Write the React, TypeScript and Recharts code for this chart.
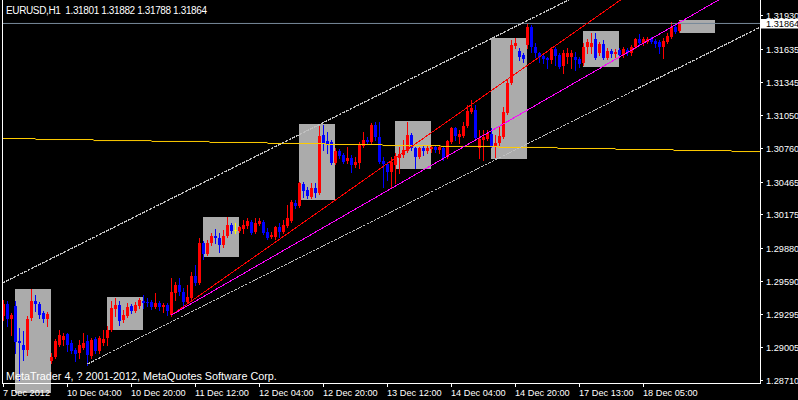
import React from "react";
import { ComposedChart, Bar, XAxis, YAxis, ReferenceArea, ReferenceLine } from "recharts";

// EURUSD H1 candles, bar 0 = 7 Dec 2012 12:00
const opens = [
  1.29283, 1.29389, 1.29257, 1.29371, 1.29062, 1.29027, 1.28983, 1.29265, 1.29415, 1.29389,
  1.2931, 1.29257, 1.28885, 1.28921, 1.29027, 1.29071, 1.29124, 1.29045, 1.28983, 1.28957,
  1.29001, 1.29062, 1.2893, 1.2908, 1.28974, 1.29045, 1.29089, 1.29159, 1.29345, 1.2938,
  1.29247, 1.29283, 1.29371, 1.29327, 1.29371, 1.29415, 1.29406, 1.29406, 1.29362, 1.29398,
  1.29362, 1.2938, 1.29292, 1.29486, 1.29556, 1.29494, 1.29406, 1.29442, 1.29636, 1.29574,
  1.29927, 1.2983, 1.29927, 1.29988, 1.29971, 1.29909, 1.29988, 1.30085, 1.30041, 1.30032,
  1.3005, 1.30077, 1.30112, 1.30023, 1.30094, 1.30112, 1.30023, 1.2998, 1.2998, 1.30068,
  1.30023, 1.30077, 1.30121, 1.3028, 1.30253, 1.30447, 1.30394, 1.30332, 1.30412, 1.30368,
  1.3088, 1.30827, 1.30818, 1.30633, 1.30739, 1.30703, 1.3065, 1.30677, 1.30615, 1.30633,
  1.30783, 1.30836, 1.30818, 1.30968, 1.30862, 1.3065, 1.30624, 1.30553, 1.30615, 1.30677,
  1.30703, 1.30739, 1.3088, 1.30765, 1.30685, 1.30765, 1.30739, 1.30756, 1.30774, 1.30747,
  1.30765, 1.30685, 1.30818, 1.30942, 1.30862, 1.30871, 1.30959, 1.31083, 1.311, 1.30765,
  1.30836, 1.30845, 1.30889, 1.30783, 1.30809, 1.30862, 1.31074, 1.31339, 1.31665, 1.31621,
  1.31586, 1.31674, 1.31832, 1.31656, 1.31604, 1.31577, 1.3156, 1.31542, 1.31639, 1.31586,
  1.31489, 1.31568, 1.31568, 1.31568, 1.31551, 1.31515, 1.31656, 1.31656, 1.31727, 1.31604,
  1.31683, 1.3156, 1.31621, 1.31595, 1.3163, 1.31586, 1.3163, 1.31604, 1.31656, 1.31727,
  1.31692, 1.31701, 1.31736, 1.31709, 1.31701, 1.31656, 1.31701, 1.31745, 1.31832, 1.31801,
];
const highs = [
  1.29424, 1.29415, 1.2931, 1.29415, 1.29176, 1.2915, 1.29283, 1.29521, 1.29468, 1.29406,
  1.29327, 1.29318, 1.28957, 1.2908, 1.29159, 1.29133, 1.29133, 1.29071, 1.29001, 1.29071,
  1.29133, 1.29115, 1.29089, 1.29098, 1.29106, 1.29159, 1.29194, 1.29415, 1.29442, 1.29415,
  1.29336, 1.29398, 1.29389, 1.29406, 1.29442, 1.29468, 1.29442, 1.29424, 1.29486, 1.29415,
  1.29398, 1.29398, 1.29618, 1.29583, 1.29618, 1.2953, 1.29556, 1.29671, 1.29733, 1.29971,
  1.29944, 1.29953, 1.30015, 1.3005, 1.30015, 1.30041, 1.30156, 1.30103, 1.30103, 1.30077,
  1.3013, 1.30147, 1.3013, 1.30147, 1.30147, 1.3013, 1.30059, 1.30023, 1.30077, 1.30103,
  1.3013, 1.30262, 1.30306, 1.30306, 1.30465, 1.30465, 1.30421, 1.30456, 1.30456, 1.30959,
  1.30968, 1.30906, 1.30836, 1.30765, 1.30756, 1.30721, 1.30774, 1.30703, 1.30685, 1.30818,
  1.30906, 1.30862, 1.30986, 1.30994, 1.30994, 1.30685, 1.30641, 1.30685, 1.30721, 1.30774,
  1.30836, 1.30994, 1.30897, 1.30774, 1.30774, 1.30783, 1.30783, 1.30792, 1.30792, 1.30792,
  1.30783, 1.30836, 1.3095, 1.3095, 1.30924, 1.30994, 1.31145, 1.31189, 1.31145, 1.30924,
  1.30924, 1.30924, 1.30942, 1.3088, 1.3095, 1.31127, 1.31365, 1.31718, 1.31736, 1.31648,
  1.31604, 1.31859, 1.3185, 1.31692, 1.31612, 1.31604, 1.31568, 1.31656, 1.31656, 1.31604,
  1.3163, 1.31648, 1.3163, 1.31612, 1.31568, 1.31692, 1.31727, 1.3178, 1.3178, 1.31701,
  1.31718, 1.31648, 1.31639, 1.31639, 1.31648, 1.31656, 1.31648, 1.31674, 1.31736, 1.31771,
  1.31745, 1.31745, 1.31745, 1.31727, 1.31718, 1.31736, 1.3178, 1.31877, 1.31868, 1.31882,
];
const lows = [
  1.29247, 1.29194, 1.29115, 1.28957, 1.28718, 1.28894, 1.28939, 1.29247, 1.29327, 1.29265,
  1.29229, 1.29194, 1.28868, 1.28912, 1.29018, 1.29027, 1.28974, 1.28957, 1.28885, 1.28912,
  1.28992, 1.2885, 1.28912, 1.28957, 1.28957, 1.29027, 1.29027, 1.2915, 1.29283, 1.29203,
  1.29229, 1.29274, 1.2931, 1.29318, 1.29354, 1.29354, 1.29371, 1.29345, 1.29354, 1.29336,
  1.29318, 1.29292, 1.29283, 1.29424, 1.29468, 1.2938, 1.29398, 1.29433, 1.29556, 1.29565,
  1.29786, 1.29821, 1.29909, 1.29927, 1.29848, 1.29891, 1.2998, 1.30015, 1.30015, 1.30023,
  1.30015, 1.30059, 1.30006, 1.30015, 1.30085, 1.30006, 1.29962, 1.29971, 1.29962, 1.2998,
  1.30015, 1.30068, 1.30112, 1.30235, 1.30244, 1.30332, 1.30324, 1.30324, 1.30332, 1.30359,
  1.30747, 1.30721, 1.30624, 1.30624, 1.30677, 1.30633, 1.30633, 1.30553, 1.30597, 1.30588,
  1.30774, 1.30809, 1.30809, 1.30836, 1.30633, 1.30421, 1.30483, 1.30412, 1.30456, 1.30544,
  1.30685, 1.3073, 1.30747, 1.30588, 1.30677, 1.30703, 1.30721, 1.3073, 1.3073, 1.30721,
  1.30659, 1.30677, 1.30809, 1.30836, 1.30809, 1.30862, 1.3095, 1.31074, 1.30836, 1.30677,
  1.30659, 1.30836, 1.30774, 1.30685, 1.30792, 1.30853, 1.31065, 1.3133, 1.31648, 1.31542,
  1.31524, 1.31648, 1.31612, 1.31568, 1.31524, 1.31515, 1.31471, 1.31515, 1.31498, 1.31471,
  1.31427, 1.31515, 1.31471, 1.31453, 1.3148, 1.31498, 1.31604, 1.31604, 1.31551, 1.31586,
  1.31551, 1.31551, 1.31568, 1.31568, 1.31568, 1.31568, 1.31586, 1.31586, 1.31648, 1.31683,
  1.31674, 1.31692, 1.31692, 1.31656, 1.31604, 1.3156, 1.31692, 1.31736, 1.3178, 1.31788,
];
const closes = [
  1.29389, 1.29257, 1.29292, 1.29053, 1.29045, 1.28983, 1.29257, 1.29415, 1.29389, 1.29292,
  1.29257, 1.29301, 1.28921, 1.29062, 1.29115, 1.29106, 1.29027, 1.28974, 1.28948, 1.29027,
  1.29045, 1.28939, 1.29071, 1.28974, 1.29089, 1.2908, 1.29159, 1.29354, 1.2938, 1.29238,
  1.29292, 1.29362, 1.29327, 1.2938, 1.29424, 1.29398, 1.29398, 1.29362, 1.29398, 1.29362,
  1.2938, 1.29327, 1.29494, 1.29556, 1.29494, 1.29406, 1.2945, 1.29636, 1.29574, 1.29927,
  1.2983, 1.29927, 1.29988, 1.29971, 1.29909, 1.29988, 1.30085, 1.30032, 1.30041, 1.30068,
  1.30085, 1.30121, 1.30015, 1.30103, 1.30121, 1.30015, 1.29971, 1.29997, 1.30068, 1.30023,
  1.30085, 1.30147, 1.30288, 1.30253, 1.30456, 1.30385, 1.30341, 1.30412, 1.30368, 1.30871,
  1.30809, 1.30792, 1.30633, 1.30739, 1.30694, 1.30641, 1.30677, 1.30615, 1.30641, 1.308,
  1.30836, 1.30818, 1.30968, 1.30862, 1.30641, 1.30624, 1.30553, 1.30641, 1.30694, 1.30712,
  1.30747, 1.3088, 1.30765, 1.30685, 1.30765, 1.30739, 1.30765, 1.30774, 1.30747, 1.30774,
  1.30677, 1.30827, 1.30942, 1.30871, 1.30889, 1.30959, 1.31092, 1.31118, 1.30853, 1.30845,
  1.30862, 1.30898, 1.30783, 1.30809, 1.30871, 1.31083, 1.31339, 1.31674, 1.31692, 1.31568,
  1.31551, 1.31832, 1.31656, 1.31604, 1.31568, 1.31551, 1.31542, 1.31639, 1.31577, 1.3148,
  1.31604, 1.31604, 1.31604, 1.31542, 1.31506, 1.31656, 1.31701, 1.31692, 1.3156, 1.31683,
  1.3156, 1.31621, 1.31595, 1.31612, 1.31586, 1.31639, 1.31604, 1.31656, 1.31727, 1.31692,
  1.31727, 1.31727, 1.31701, 1.31683, 1.31656, 1.31709, 1.31753, 1.31832, 1.31789, 1.31864,
];

const timeTickBars = [0, 16, 32, 48, 64, 80, 96, 112, 128, 144, 160];
const timeTickLabels = [
  "7 Dec 2012", "10 Dec 04:00", "10 Dec 20:00", "11 Dec 12:00", "12 Dec 04:00", "12 Dec 20:00",
  "13 Dec 12:00", "14 Dec 04:00", "14 Dec 20:00", "17 Dec 13:00", "18 Dec 05:00",
];
const priceTicks = [1.2871, 1.29005, 1.29295, 1.2959, 1.2988, 1.30175, 1.30465, 1.3076, 1.3105, 1.31345, 1.31635, 1.3193];

// session boxes (bar from / to, price low / high)
const boxFrom = [3, 26, 50, 74, 98, 122, 145, 169];
const boxTo = [12, 35, 59, 83, 107, 131, 154, 178];
const boxLow = [1.286, 1.29159, 1.29804, 1.30306, 1.3058, 1.30668, 1.3148, 1.3178];
const boxHigh = [1.29521, 1.29451, 1.30157, 1.30977, 1.31003, 1.31736, 1.31798, 1.31895];

// trend lines: upper channel, lower channel, red, magenta
const trendX1 = [-0.25, 21, 42, 42];
const trendY1 = [1.29574, 1.2886, 1.29292, 1.29292];
const trendX2 = [141.25, 189.25, 154.25, 178.75];
const trendY2 = [1.32071, 1.31833, 1.32071, 1.32071];
const trendColors = ["#C0C0C0", "#C0C0C0", "#FF0000", "#FF00FF"];
const trendDash = ["3 1", "3 1", undefined, undefined];

// stepped orange level
const levelFrom = [-0.25, 8, 22.5, 37, 51.5, 66, 80.5, 94.75, 109.25, 123.75, 138.5, 153, 167.5, 182];
const levelValue = [1.30849, 1.3084, 1.30831, 1.30823, 1.30814, 1.30805, 1.30796, 1.30787, 1.30779, 1.3077, 1.30761, 1.30752, 1.30743, 1.30734];

const X_MIN = -0.25;
const X_MAX = 189.25;
const Y_MIN = 1.28692;
const Y_MAX = 1.32071;
const FONT = "'Liberation Sans', Arial, sans-serif";

const last = closes.length - 1;
const bid = closes[last];

function Candle(props: any) {
  const { x, y, width, height, payload } = props;
  if (!payload) return null;
  const { open, close, high, low } = payload;
  const top = Math.min(y, y + height);
  const h = Math.abs(height);
  const k = high > low ? h / (high - low) : 0;
  const py = (v: number) => top + (high - v) * k;
  const cx = Math.floor(x + width / 2) + 0.5;
  const color = close > open ? "#FF0000" : close < open ? "#0000FF" : "#FFFF00";
  const wt = Math.round(py(high));
  const wb = Math.round(py(low));
  const bt = Math.round(py(Math.max(open, close)));
  const bb = Math.round(py(Math.min(open, close)));
  return (
    <g>
      <rect x={cx - 0.5} y={wt} width={1} height={Math.max(1, wb - wt + 1)} fill={color} />
      <rect x={cx - 1.5} y={bt} width={3} height={Math.max(1, bb - bt)} fill={color} />
    </g>
  );
}

function TimeTick(props: any) {
  const { x, payload } = props;
  const idx = timeTickBars.indexOf(payload.value);
  const xx = Math.floor(x) + 0.5;
  return (
    <g>
      <line x1={xx} x2={xx} y1={383} y2={387} stroke="#fff" />
      <text x={xx - 0.5} y={396} fill="#fff" fontSize={9.2} fontFamily={FONT} textAnchor="start">
        {timeTickLabels[idx]}
      </text>
    </g>
  );
}

function PriceTick(props: any) {
  const { y, payload } = props;
  const yy = Math.floor(y) + 0.5;
  if (payload.value === bid) {
    return (
      <g>
        <rect x={761} y={yy - 4.5} width={37} height={9.5} fill="#fff" />
        <text x={766} y={yy + 3.3} fill="#000" fontSize={9.2} fontFamily={FONT}>
          {bid.toFixed(5)}
        </text>
      </g>
    );
  }
  return (
    <g>
      <line x1={760} x2={763} y1={yy} y2={yy} stroke="#fff" />
      <text x={766} y={yy + 3.3} fill="#fff" fontSize={9.2} fontFamily={FONT}>
        {Number(payload.value).toFixed(5)}
      </text>
    </g>
  );
}

function BoxShape(props: any) {
  const { x, y, width, height } = props;
  return (
    <rect x={Math.floor(x)} y={Math.round(y)} width={Math.round(width)} height={Math.round(height)} fill="#ABABAB" />
  );
}

export default function App() {
  const data = opens.map((o, i) => ({
    i,
    open: o,
    high: highs[i],
    low: lows[i],
    close: closes[i],
    range: [lows[i], highs[i]],
  }));

  const header = `EURUSD,H1\u00A0\u00A0${opens[last].toFixed(5)} ${highs[last].toFixed(5)} ${lows[last].toFixed(5)} ${closes[last].toFixed(5)}`;

  return (
    <div style={{ position: "absolute", left: 0, top: 0, width: 798, height: 400, background: "#000", overflow: "hidden" }}>
      <ComposedChart width={798} height={400} data={data} margin={{ top: 0, right: 0, bottom: 0, left: 2.5 }}>
        <XAxis
          dataKey="i"
          type="number"
          domain={[X_MIN, X_MAX]}
          allowDataOverflow
          ticks={timeTickBars}
          interval={0}
          height={17}
          axisLine={false}
          tickLine={false}
          tick={<TimeTick />}
        />
        <YAxis
          orientation="right"
          type="number"
          domain={[Y_MIN, Y_MAX]}
          allowDataOverflow
          ticks={[...priceTicks, bid]}
          interval={0}
          width={37.5}
          axisLine={false}
          tickLine={false}
          tick={<PriceTick />}
        />
        {boxFrom.map((b, k) => (
          <ReferenceArea
            key={"box" + k}
            x1={b}
            x2={boxTo[k]}
            y1={boxLow[k]}
            y2={boxHigh[k]}
            ifOverflow="hidden"
            shape={<BoxShape />}
          />
        ))}
        <Bar dataKey="range" barSize={3} isAnimationActive={false} shape={<Candle />} />
        {levelFrom.map((s, k) => (
          <ReferenceLine
            key={"lvl" + k}
            segment={[
              { x: s, y: levelValue[k] },
              { x: k + 1 < levelFrom.length ? levelFrom[k + 1] : X_MAX, y: levelValue[k] },
            ]}
            stroke="#FFCC00"
            strokeWidth={1}
            ifOverflow="hidden"
          />
        ))}
        <ReferenceLine y={bid} stroke="#778899" strokeWidth={1} />
        {trendX1.map((tx, k) => (
          <ReferenceLine
            key={"tl" + k}
            segment={[
              { x: tx, y: trendY1[k] },
              { x: trendX2[k], y: trendY2[k] },
            ]}
            stroke={trendColors[k]}
            strokeDasharray={trendDash[k]}
            strokeWidth={1}
            shapeRendering="crispEdges"
            ifOverflow="hidden"
          />
        ))}
      </ComposedChart>
      <div style={{ position: "absolute", left: 2, top: 0, width: 1, height: 384, background: "#fff" }} />
      <div style={{ position: "absolute", left: 2, top: 383, width: 759, height: 1, background: "#fff" }} />
      <div style={{ position: "absolute", left: 760, top: 0, width: 1, height: 384, background: "#fff" }} />
      <svg width={798} height={400} style={{ position: "absolute", left: 0, top: 0, pointerEvents: "none" }}>
        <text x={6} y={14} fill="#fff" fontSize={10} fontFamily={FONT} textLength={201} lengthAdjust="spacing">
          {header}
        </text>
        <text x={6} y={379.5} fill="#fff" fontSize={10.8} fontFamily={FONT}>
          MetaTrader 4, ? 2001-2012, MetaQuotes Software Corp.
        </text>
      </svg>
    </div>
  );
}
